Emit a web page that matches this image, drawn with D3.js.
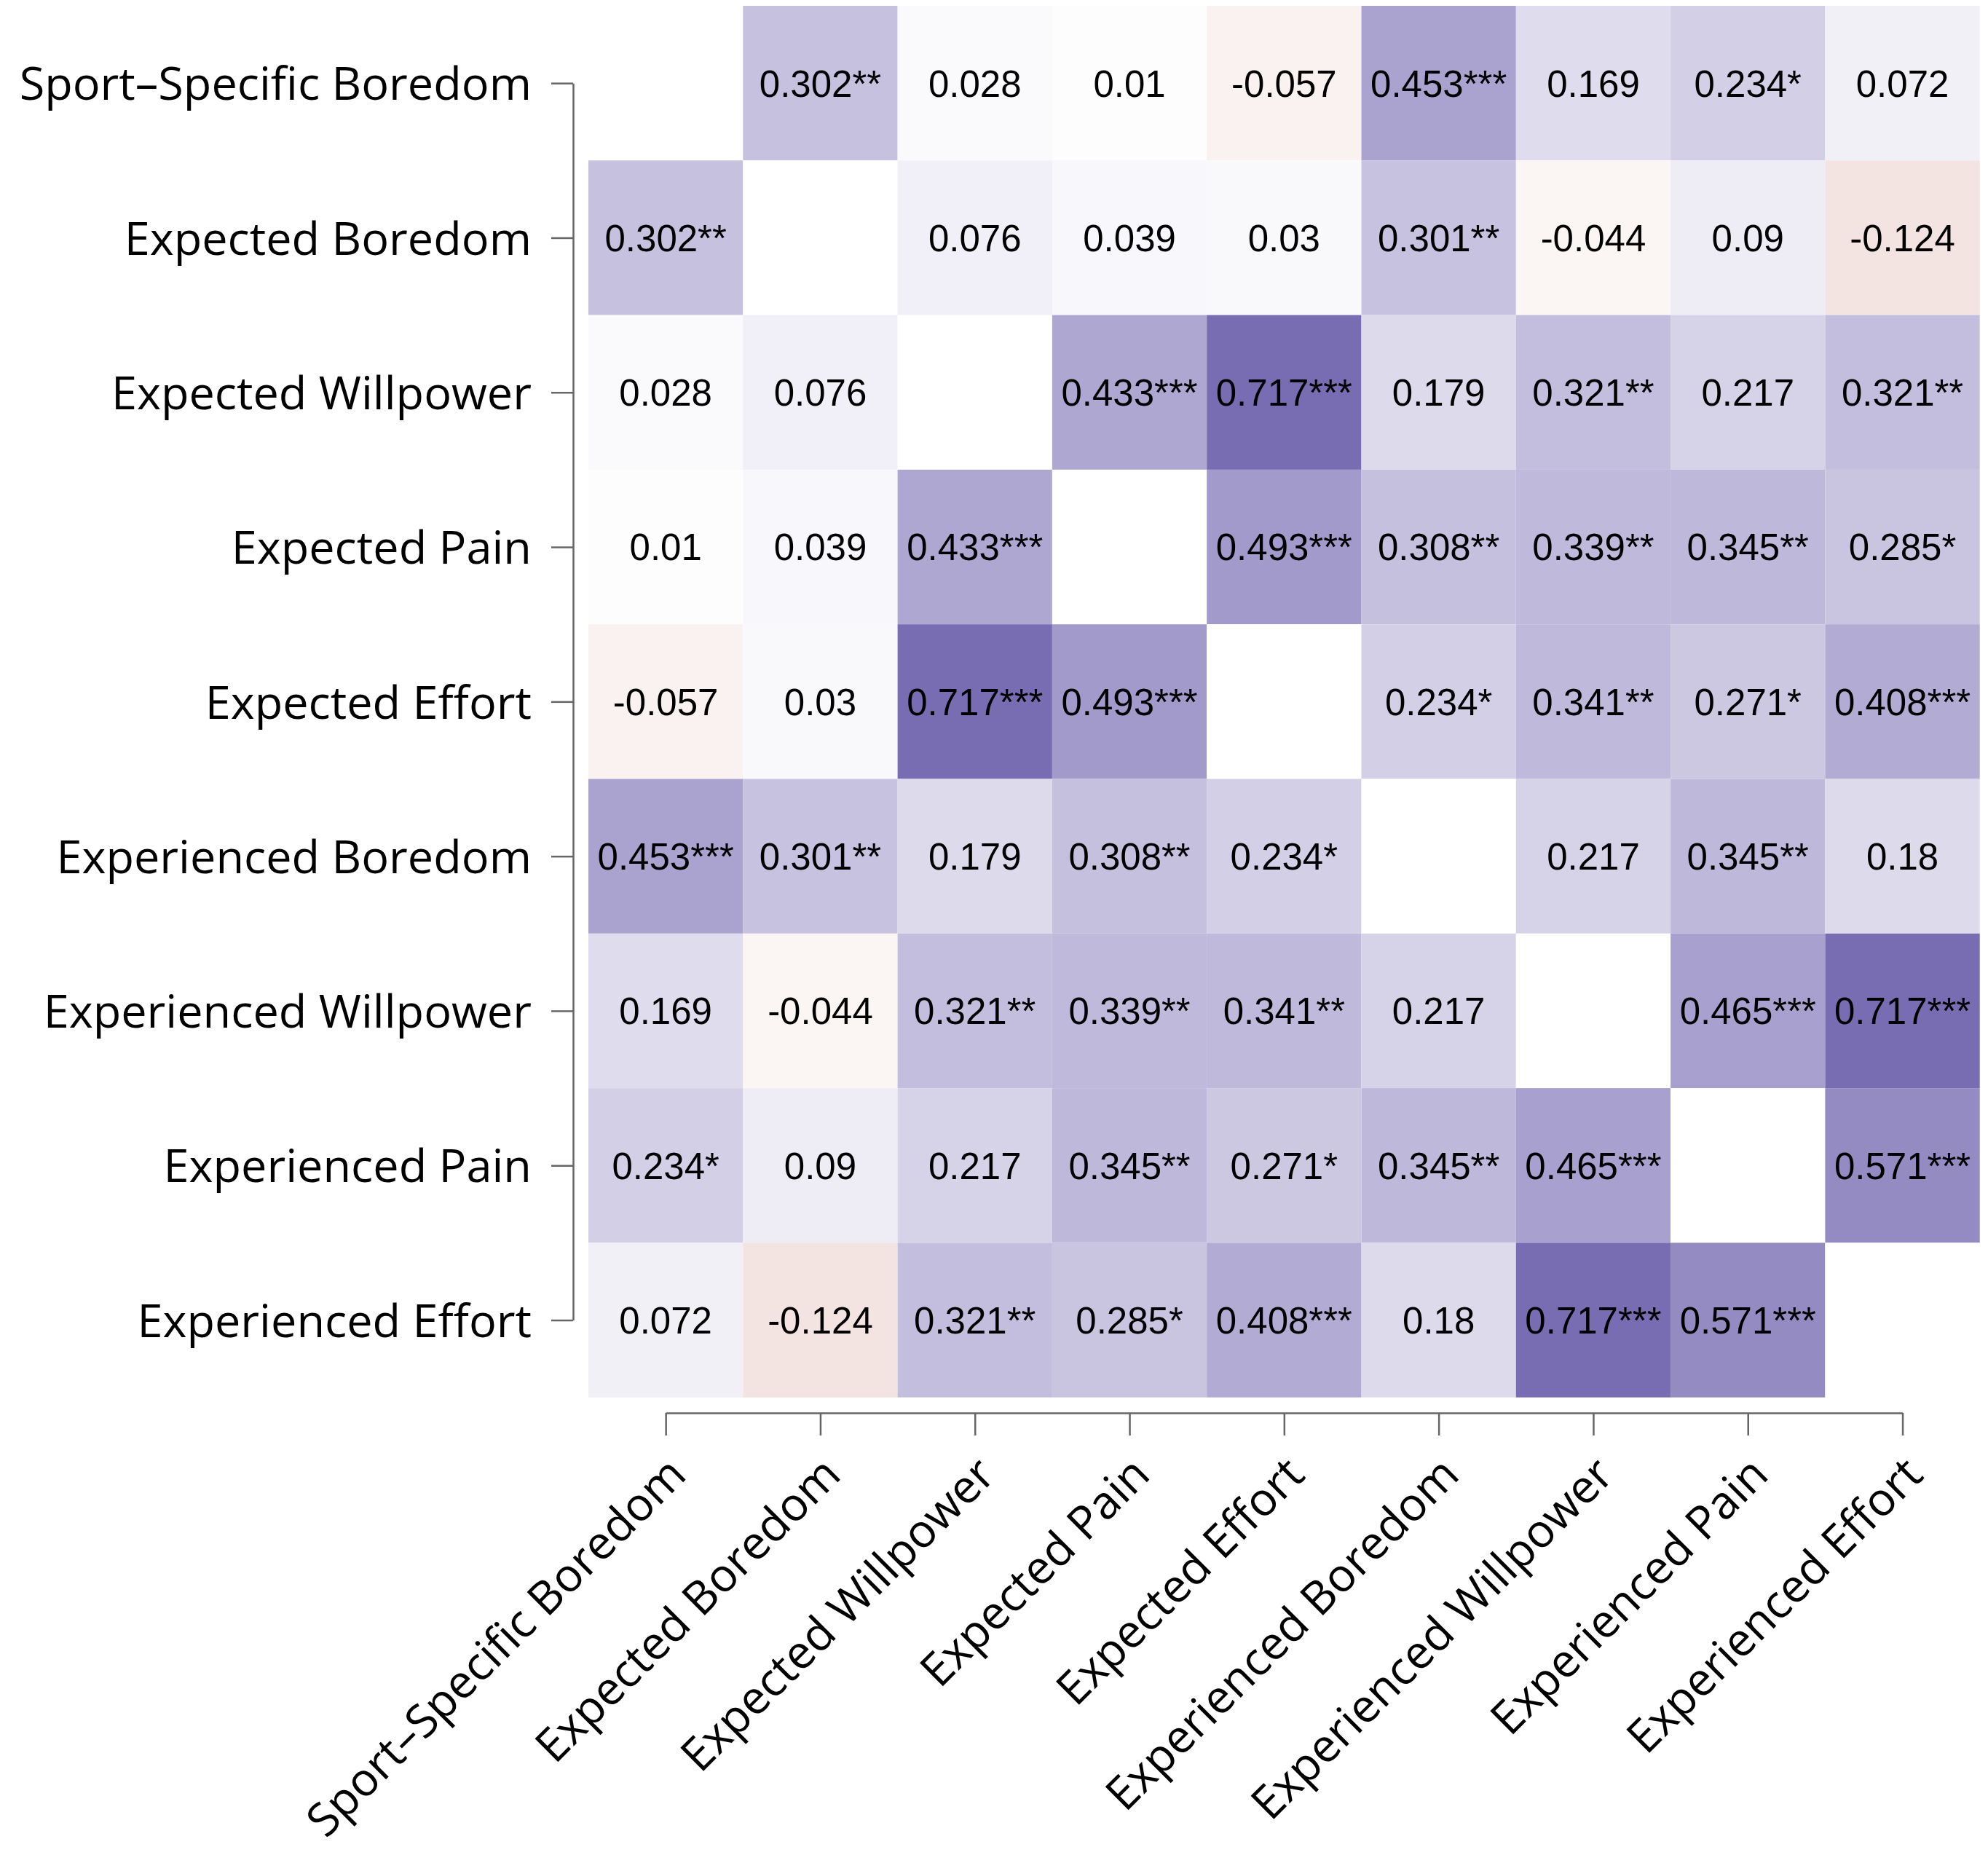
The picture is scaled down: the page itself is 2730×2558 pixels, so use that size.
<html>
<head>
<meta charset="utf-8">
<title>Correlation heatmap</title>
<script src="https://cdn.jsdelivr.net/npm/d3@7"></script>
<style>
body { margin: 0; background: #fff; }
svg { display: block; }
.axis path, .axis line { stroke: #666; stroke-width: 2.5; }
.axis text { font-family: 'Open Sans', sans-serif; font-size: 63px; fill: #000; }
text.cell { font-family: 'Liberation Sans', Arial, sans-serif; font-size: 51px; fill: #000; text-anchor: middle; }
</style>
</head>
<body>
<div id="chart"></div>
<script>
var variables = ["Sport–Specific Boredom", "Expected Boredom", "Expected Willpower", "Expected Pain",
  "Expected Effort", "Experienced Boredom", "Experienced Willpower", "Experienced Pain", "Experienced Effort"];

// correlation matrix, row by row (null = diagonal)
var corr = [
  [null, 0.302, 0.028, 0.01, -0.057, 0.453, 0.169, 0.234, 0.072],
  [0.302, null, 0.076, 0.039, 0.03, 0.301, -0.044, 0.09, -0.124],
  [0.028, 0.076, null, 0.433, 0.717, 0.179, 0.321, 0.217, 0.321],
  [0.01, 0.039, 0.433, null, 0.493, 0.308, 0.339, 0.345, 0.285],
  [-0.057, 0.03, 0.717, 0.493, null, 0.234, 0.341, 0.271, 0.408],
  [0.453, 0.301, 0.179, 0.308, 0.234, null, 0.217, 0.345, 0.18],
  [0.169, -0.044, 0.321, 0.339, 0.341, 0.217, null, 0.465, 0.717],
  [0.234, 0.09, 0.217, 0.345, 0.271, 0.345, 0.465, null, 0.571],
  [0.072, -0.124, 0.321, 0.285, 0.408, 0.18, 0.717, 0.571, null]
];

var stars = [
  ["", "**", "", "", "", "***", "", "*", ""],
  ["**", "", "", "", "", "**", "", "", ""],
  ["", "", "", "***", "***", "", "**", "", "**"],
  ["", "", "***", "", "***", "**", "**", "**", "*"],
  ["", "", "***", "***", "", "*", "**", "*", "***"],
  ["***", "**", "", "**", "*", "", "", "**", ""],
  ["", "", "**", "**", "**", "", "", "***", "***"],
  ["*", "", "", "**", "*", "**", "***", "", "***"],
  ["", "", "**", "*", "***", "", "***", "***", ""]
];

var width = 2730, height = 2558;
var gridLeft = 808, gridTop = 8, cell = 212.3;
var n = variables.length;

var svg = d3.select("#chart").append("svg")
  .attr("width", width).attr("height", height);

var x = d3.scaleBand().domain(variables).range([gridLeft, gridLeft + n * cell]);
var y = d3.scaleBand().domain(variables).range([gridTop, gridTop + n * cell]);

var color = d3.scaleLinear()
  .domain([-1, 0, 1])
  .range(["#a01e0f", "#ffffff", "#433395"]);

var cells = [];
corr.forEach(function (row, i) {
  row.forEach(function (v, j) {
    cells.push({ row: variables[i], col: variables[j], value: v, star: stars[i][j] });
  });
});

svg.selectAll("rect.cell").data(cells).enter().append("rect")
  .attr("class", "cell")
  .attr("x", function (d) { return x(d.col); })
  .attr("y", function (d) { return y(d.row); })
  .attr("width", x.bandwidth())
  .attr("height", y.bandwidth())
  .attr("fill", function (d) { return d.value === null ? "#fff" : color(d.value); });

svg.selectAll("text.cell").data(cells.filter(function (d) { return d.value !== null; }))
  .enter().append("text")
  .attr("class", "cell")
  .attr("x", function (d) { return x(d.col) + x.bandwidth() / 2; })
  .attr("y", function (d) { return y(d.row) + y.bandwidth() / 2; })
  .attr("dy", "0.36em")
  .text(function (d) { return String(d.value) + d.star; });

// R style axes: line from first to last tick
var yAxisScale = d3.scalePoint().domain(variables)
  .range([gridTop + cell / 2, gridTop + (n - 0.5) * cell]);
var xAxisScale = d3.scalePoint().domain(variables)
  .range([gridLeft + cell / 2, gridLeft + (n - 0.5) * cell]);

var yAxis = d3.axisLeft(yAxisScale).tickSize(30).tickSizeOuter(0).tickPadding(27);
var gy = svg.append("g").attr("class", "axis").attr("transform", "translate(787,0)").call(yAxis);
gy.selectAll("text").attr("dy", "0.36em");

var xAxis = d3.axisBottom(xAxisScale).tickSize(31).tickSizeOuter(0).tickFormat("");
svg.append("g").attr("class", "axis").attr("transform", "translate(0,1940)").call(xAxis);

svg.append("g").attr("class", "axis").selectAll("text.xlab").data(variables).enter()
  .append("text")
  .attr("class", "xlab")
  .attr("text-anchor", "end")
  .attr("dy", "0.36em")
  .attr("transform", function (d) { return "translate(" + (xAxisScale(d) + 15) + ",2012) rotate(-45)"; })
  .text(function (d) { return d; });

svg.selectAll(".domain").attr("fill", "none");
</script>
</body>
</html>
